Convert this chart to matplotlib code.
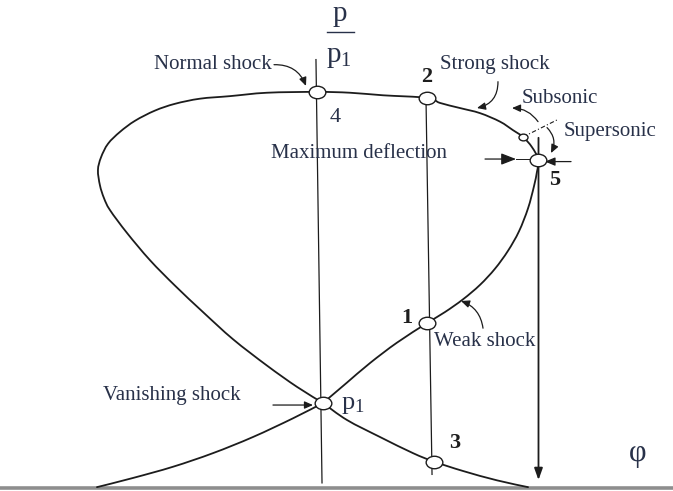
import matplotlib
matplotlib.use("Agg")
import numpy as np
import matplotlib.pyplot as plt
from matplotlib.path import Path
from matplotlib.patches import PathPatch
from matplotlib.markers import MarkerStyle
from matplotlib.transforms import Affine2D

plt.rcParams['font.family'] = ['Liberation Serif', 'DejaVu Serif']
plt.rcParams['mathtext.fontset'] = 'custom'
plt.rcParams['mathtext.rm'] = 'Liberation Serif'
plt.rcParams['mathtext.it'] = 'Liberation Serif:italic'

# Shock polar: flow deflection phi [deg] vs pressure ratio p/p1
polar_phi = [0.31, 1.56, 2.81, 5.21, 8.02, 11.15, 13.02, 14.90, 16.67, 18.23,
             19.58, 20.73, 21.67, 22.29, 22.60, 22.76, 22.08, 21.15, 20.10,
             18.75, 16.67, 14.58, 12.50, 11.15, 6.56, 3.13, -0.31, -5.52,
             -9.38, -12.50, -15.10, -17.19, -19.27, -20.83, -22.08, -22.81,
             -23.13, -22.92, -22.50, -21.88, -20.10, -17.71, -15.10, -12.19,
             -9.06, -5.52, -2.40, 0.31]
polar_p = [1.00, 1.12, 1.24, 1.47, 1.71, 1.94, 2.07, 2.22, 2.39, 2.58,
           2.79, 3.02, 3.29, 3.55, 3.72, 3.86, 4.01, 4.13, 4.21,
           4.31, 4.41, 4.47, 4.53, 4.59, 4.62, 4.65, 4.66, 4.65,
           4.61, 4.58, 4.52, 4.44, 4.32, 4.19, 4.05, 3.89,
           3.74, 3.56, 3.41, 3.27, 3.00, 2.68, 2.38, 2.07,
           1.75, 1.44, 1.19, 1.00]

# Expansion branches leaving p1
expand_right_phi = [0.31, 2.81, 6.25, 9.69, 11.88, 14.90, 18.44, 21.67]
expand_right_p = [1.00, 0.80, 0.60, 0.41, 0.31, 0.20, 0.09, 0.01]
expand_left_phi = [0.31, -2.81, -6.98, -11.15, -15.31, -19.48, -23.23]
expand_left_p = [1.00, 0.82, 0.60, 0.41, 0.25, 0.118, 0.01]

# Ordinate (phi = 0) and the line of constant deflection through 1, 2, 3
axis_phi = [-0.42, 0.21]
axis_p = [5.04, 0.06]
wedge_phi = [11.04, 11.67]
wedge_p = [4.59, 0.16]

# Marked states
state_phi = [11.15, 11.15, 11.88, -0.31, 0.31, 22.76]
state_p = [1.94, 4.59, 0.31, 4.66, 1.00, 3.86]
sonic_phi = [21.15]
sonic_p = [4.13]

# Maximum deflection
max_defl_phi = 22.76
max_defl_top = 4.12
max_defl_bottom = 0.094

ink = '#1c1c1c'
txt = '#283149'

fig = plt.figure(figsize=(6.73, 4.91), dpi=100)
ax = fig.add_axes([0, 0, 1, 1])
ax.set_xlim(-33.333, 36.771)
ax.set_ylim(-0.0353, 5.741)
ax.set_axis_off()


def smooth_path(xs, ys):
    """Cubic Bezier path passing through the given points (Catmull-Rom tangents)."""
    pts = np.column_stack([xs, ys]).astype(float)
    n = len(pts)
    verts = [pts[0]]
    codes = [Path.MOVETO]
    for i in range(n - 1):
        p0 = pts[i - 1] if i > 0 else pts[i]
        p1 = pts[i]
        p2 = pts[i + 1]
        p3 = pts[i + 2] if i + 2 < n else pts[i + 1]
        c1 = p1 + (p2 - p0) / 6.0
        c2 = p2 - (p3 - p1) / 6.0
        verts += [c1, c2, p2]
        codes += [Path.CURVE4] * 3
    return Path(verts, codes)


# baseline
ax.axhline(0.0, color='#8e8e8e', lw=2.6, zorder=1)

# axis and constant-deflection line
ax.plot(axis_phi, axis_p, color=ink, lw=0.9, zorder=2)
ax.plot(wedge_phi, wedge_p, color=ink, lw=0.9, zorder=2)

# curves
for xs, ys in [(polar_phi, polar_p), (expand_right_phi, expand_right_p),
               (expand_left_phi, expand_left_p)]:
    ax.add_patch(PathPatch(smooth_path(xs, ys), facecolor='none', edgecolor=ink,
                           lw=1.3, joinstyle='round', capstyle='round', zorder=3))

# maximum-deflection arrow
ax.annotate('', xy=(max_defl_phi, max_defl_bottom), xytext=(max_defl_phi, max_defl_top),
            arrowprops=dict(arrowstyle='-|>,head_length=0.7,head_width=0.25',
                            color=ink, lw=1.3, shrinkA=0, shrinkB=0), zorder=3)

# elliptical state markers
ell = MarkerStyle(Path.unit_circle().transformed(Affine2D().scale(1.0, 0.75)))
ax.plot(state_phi, state_p, ls='none', marker=ell, ms=12, mfc='white',
        mec=ink, mew=1.0, zorder=5)
ax.plot(sonic_phi, sonic_p, ls='none', marker=ell, ms=6.5, mfc='white',
        mec=ink, mew=1.0, zorder=5)

# sonic dividing line
ax.plot([21.15, 24.69], [4.13, 4.33], color=ink, lw=0.8, ls=(0, (4, 2, 1, 2)), zorder=4)

fs = 15
# labels
ax.text(-5.0, 4.98, 'Normal shock', fontsize=fs, color=txt, ha='right', va='center')
ax.text(18.23, 4.98, 'Strong shock', fontsize=fs, color=txt, ha='center', va='center')
ax.text(25.0, 4.58, 'Subsonic', fontsize=fs, color=txt, ha='center', va='center')
ax.text(30.2, 4.19, 'Supersonic', fontsize=fs, color=txt, ha='center', va='center')
ax.text(4.06, 3.94, 'Maximum deflection', fontsize=fs, color=txt, ha='center', va='center')
ax.text(17.19, 1.72, 'Weak shock', fontsize=fs, color=txt, ha='center', va='center')
ax.text(-15.4, 1.09, 'Vanishing shock', fontsize=fs, color=txt, ha='center', va='center')

# state numbers
nb = dict(fontsize=16, fontweight='bold', color='#1e1e1e', ha='center', va='center')
ax.text(9.06, 2.00, '1', **nb)
ax.text(11.15, 4.84, '2', **nb)
ax.text(14.06, 0.53, '3', **nb)
ax.text(24.48, 3.62, '5', **nb)
ax.text(1.56, 4.36, '4', fontsize=16, color=txt, ha='center', va='center')
ax.text(2.19, 0.93, r'$\mathrm{p}_{\mathrm{1}}$', fontsize=19, color=txt, ha='left', va='baseline')

# ordinate label p / p1
ax.text(2.1, 5.49, r'$\mathrm{p}$', fontsize=21, color=txt, ha='center', va='baseline')
ax.plot([0.73, 3.54], [5.36, 5.36], color=txt, lw=1.0)
ax.text(2.0, 5.01, r'$\mathrm{p}_{\mathrm{1}}$', fontsize=21, color=txt, ha='center', va='baseline')

# abscissa label
ax.text(33.1, 0.41, 'φ', fontsize=22, color=txt, ha='center', va='center')


# pointer arrows
def pointer(xy, xytext, rad, hl=0.5, hw=0.22, lw=0.9):
    ax.annotate('', xy=xy, xytext=xytext,
                arrowprops=dict(arrowstyle=f'-|>,head_length={hl},head_width={hw}',
                                color=ink, lw=lw, shrinkA=0, shrinkB=0,
                                connectionstyle=f'arc3,rad={rad}'), zorder=4)


pointer((-1.46, 4.73), (-4.79, 4.98), -0.35)
pointer((16.35, 4.47), (18.54, 4.78), -0.4)
pointer((20.0, 4.47), (22.71, 4.31), 0.25)
pointer((24.06, 3.94), (23.65, 4.24), -0.35)
pointer((14.69, 2.20), (16.98, 1.88), 0.3)
pointer((-0.73, 0.976), (-4.9, 0.976), 0.0)

# dimension arrows at maximum deflection
pointer((20.42, 3.87), (17.19, 3.87), 0.0, hl=0.9, hw=0.35)
ax.plot([20.42, 22.0], [3.87, 3.87], color=ink, lw=0.7, zorder=4)
pointer((23.44, 3.84), (26.15, 3.84), 0.0, hl=0.6, hw=0.25)

fig.savefig('out.png', dpi=100)
